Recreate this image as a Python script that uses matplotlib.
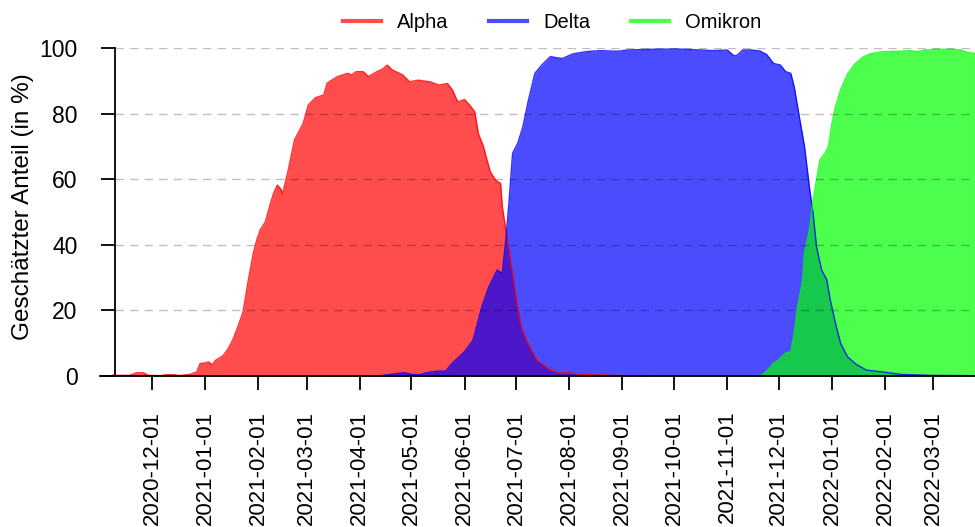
import numpy as np
import matplotlib.pyplot as plt
import matplotlib.dates as mdates
from matplotlib.lines import Line2D

plt.rcParams['font.family'] = ['Liberation Sans', 'DejaVu Sans']
plt.rcParams['font.size'] = 14.5
plt.rcParams['lines.scale_dashes'] = False

# estimated share per variant (in %), sampled on the dates listed
alpha_dates = [
    "2020-11-08", "2020-11-11", "2020-11-18", "2020-11-22", "2020-11-26", "2020-11-29",
    "2020-12-06", "2020-12-09", "2020-12-14", "2020-12-17", "2020-12-23", "2020-12-27",
    "2020-12-29", "2021-01-01", "2021-01-03", "2021-01-05", "2021-01-07", "2021-01-11",
    "2021-01-14", "2021-01-17", "2021-01-20", "2021-01-23", "2021-01-26", "2021-01-29",
    "2021-01-31", "2021-02-02", "2021-02-05", "2021-02-08", "2021-02-10", "2021-02-12",
    "2021-02-14", "2021-02-15", "2021-02-18", "2021-02-22", "2021-02-27", "2021-03-02",
    "2021-03-06", "2021-03-11", "2021-03-13", "2021-03-19", "2021-03-25", "2021-03-27",
    "2021-03-30", "2021-04-03", "2021-04-06", "2021-04-11", "2021-04-14", "2021-04-17",
    "2021-04-20", "2021-04-26", "2021-04-30", "2021-05-05", "2021-05-12", "2021-05-17",
    "2021-05-22", "2021-05-25", "2021-05-28", "2021-06-01", "2021-06-04", "2021-06-07",
    "2021-06-09", "2021-06-12", "2021-06-14", "2021-06-16", "2021-06-19", "2021-06-22",
    "2021-06-23", "2021-06-26", "2021-06-29", "2021-07-02", "2021-07-04", "2021-07-07",
    "2021-07-13", "2021-07-21", "2021-07-27", "2021-07-31", "2021-08-07", "2021-08-19",
    "2021-09-02", "2021-09-17",
]
alpha_share = [
    0.3, 0.2, 0.2, 1.0, 1.0, 0.2,
    0.1, 0.4, 0.4, 0.1, 0.5, 1.2,
    3.8, 4.0, 4.3, 3.4, 4.8, 6.0,
    8.0, 11.0, 15.0, 19.5, 29.0, 37.5,
    41.5, 44.5, 47.0, 52.7, 56.0, 58.2,
    57.0, 55.5, 62.0, 72.0, 77.0, 82.6,
    84.8, 85.7, 89.3, 91.3, 92.3, 91.8,
    92.8, 92.8, 91.3, 92.8, 93.5, 94.8,
    93.3, 91.8, 89.7, 90.2, 89.7, 88.7,
    89.2, 87.2, 83.6, 84.3, 82.6, 80.5,
    74.0, 70.0, 66.0, 62.3, 59.8, 58.7,
    51.6, 41.5, 31.0, 21.0, 15.0, 11.0,
    4.9, 1.8, 0.9, 1.0, 0.5, 0.3,
    0.1, 0.0,
]

delta_dates = [
    "2020-11-08", "2021-04-13", "2021-04-23", "2021-04-27", "2021-05-01", "2021-05-06",
    "2021-05-10", "2021-05-16", "2021-05-21", "2021-05-24", "2021-05-28", "2021-06-01",
    "2021-06-06", "2021-06-09", "2021-06-11", "2021-06-15", "2021-06-19", "2021-06-20",
    "2021-06-23", "2021-06-25", "2021-06-27", "2021-06-29", "2021-07-02", "2021-07-05",
    "2021-07-08", "2021-07-12", "2021-07-16", "2021-07-21", "2021-07-25", "2021-07-28",
    "2021-08-03", "2021-08-11", "2021-08-19", "2021-08-29", "2021-09-04", "2021-09-17",
    "2021-10-03", "2021-10-16", "2021-10-24", "2021-11-01", "2021-11-03", "2021-11-05",
    "2021-11-07", "2021-11-10", "2021-11-15", "2021-11-20", "2021-11-24", "2021-11-28",
    "2021-12-02", "2021-12-05", "2021-12-08", "2021-12-10", "2021-12-13", "2021-12-16",
    "2021-12-19", "2021-12-21", "2021-12-23", "2021-12-26", "2021-12-29", "2021-12-31",
    "2022-01-03", "2022-01-06", "2022-01-10", "2022-01-15", "2022-01-21", "2022-01-31",
    "2022-02-10", "2022-02-27", "2022-03-25",
]
delta_share = [
    0.0, 0.1, 0.8, 1.0, 0.5, 0.4,
    1.0, 1.5, 1.5, 3.4, 5.5, 7.4,
    11.0, 17.0, 21.0, 27.0, 31.3, 32.3,
    31.3, 41.5, 53.7, 67.9, 71.0, 76.0,
    83.6, 92.3, 94.8, 97.4, 97.0, 96.8,
    98.2, 98.9, 99.2, 99.0, 99.4, 99.6,
    99.7, 99.4, 99.2, 99.4, 98.5, 97.6,
    97.9, 99.4, 99.4, 99.1, 98.0, 95.3,
    94.8, 92.8, 92.3, 88.2, 79.0, 70.0,
    57.0, 49.6, 39.4, 32.3, 29.3, 23.2,
    16.2, 10.0, 5.9, 3.6, 1.8, 1.2,
    0.5, 0.2, 0.1,
]

omikron_dates = [
    "2021-11-15", "2021-11-21", "2021-11-24", "2021-11-28", "2021-12-01", "2021-12-05",
    "2021-12-08", "2021-12-10", "2021-12-12", "2021-12-15", "2021-12-16", "2021-12-19",
    "2021-12-21", "2021-12-23", "2021-12-25", "2021-12-28", "2021-12-30", "2022-01-01",
    "2022-01-03", "2022-01-06", "2022-01-10", "2022-01-14", "2022-01-19", "2022-01-23",
    "2022-01-31", "2022-02-10", "2022-02-14", "2022-02-20", "2022-02-24", "2022-03-03",
    "2022-03-11", "2022-03-17", "2022-03-21", "2022-03-25",
]
omikron_share = [
    0.0, 0.2, 1.5, 3.9, 4.9, 7.0,
    7.4, 13.0, 21.0, 29.3, 37.4, 45.0,
    53.7, 59.8, 65.9, 68.0, 70.0, 77.0,
    82.0, 87.2, 92.0, 95.0, 97.2, 98.2,
    98.9, 99.0, 99.2, 98.9, 99.4, 99.6,
    99.6, 99.4, 98.6, 98.4,
]

variants = ["Alpha", "Delta", "Omikron"]
colors = ["red", "blue", "lime"]
series = [
    (alpha_dates, alpha_share),
    (delta_dates, delta_share),
    (omikron_dates, omikron_share),
]

tick_dates = [
    "2020-12-01", "2021-01-01", "2021-02-01", "2021-03-01", "2021-04-01",
    "2021-05-01", "2021-06-01", "2021-07-01", "2021-08-01", "2021-09-01",
    "2021-10-01", "2021-11-01", "2021-12-01", "2022-01-01", "2022-02-01",
    "2022-03-01",
]
y_ticks = [0, 20, 40, 60, 80, 100]

fig = plt.figure(figsize=(9.75, 5.27), dpi=100)
ax = fig.add_axes([100 / 975, 1 - 376 / 527, 875 / 975, 328 / 527])

ref = mdates.date2num(np.datetime64("2020-12-01"))
x_left, x_right = ref - 30.3, ref + 479.3
y_axis_at = ref - 21.5

for (dates, share), color in zip(series, colors):
    d = np.array(dates, dtype="datetime64[D]")
    ax.fill_between(d, 0, share, color=color, alpha=0.7, lw=0, zorder=2)
    ax.plot(d, share, color=color, alpha=0.8, lw=1, zorder=3)

# dashed reference lines drawn over the areas
ax.hlines(y_ticks[1:], y_axis_at, x_right, colors="black", alpha=0.25,
          lw=1, linestyles=(0, (6, 4.5)), zorder=4)

ax.set_xlim(x_left, x_right)
ax.set_ylim(0, 100)

ax.spines["top"].set_visible(False)
ax.spines["right"].set_visible(False)
ax.spines["left"].set_position(("data", y_axis_at))
ax.spines["left"].set_bounds(0, 100)
for s in ("left", "bottom"):
    ax.spines[s].set_linewidth(1.3)
    ax.spines[s].set_zorder(5)

ax.set_xticks(np.array(tick_dates, dtype="datetime64[D]"))
ax.xaxis.set_major_formatter(mdates.DateFormatter("%Y-%m-%d"))
ax.set_yticks(y_ticks)
ax.tick_params(axis="x", length=10, width=1.3, pad=15, labelrotation=90,
               labelsize=16)
ax.tick_params(axis="y", length=10, width=1.3, pad=17, labelsize=16.5)
ax.set_ylabel("Geschätzter Anteil (in %)", fontsize=17.5)
ax.yaxis.set_label_coords(-0.075, 0.515)

handles = [Line2D([], [], color=c, alpha=0.7, lw=3) for c in colors]
fig.legend(handles, variants, loc="center", bbox_to_anchor=(0.566, 0.958),
           ncol=3, frameon=False, handlelength=1.9, handletextpad=0.8,
           columnspacing=2.0)

fig.savefig("out.png", dpi=100)
